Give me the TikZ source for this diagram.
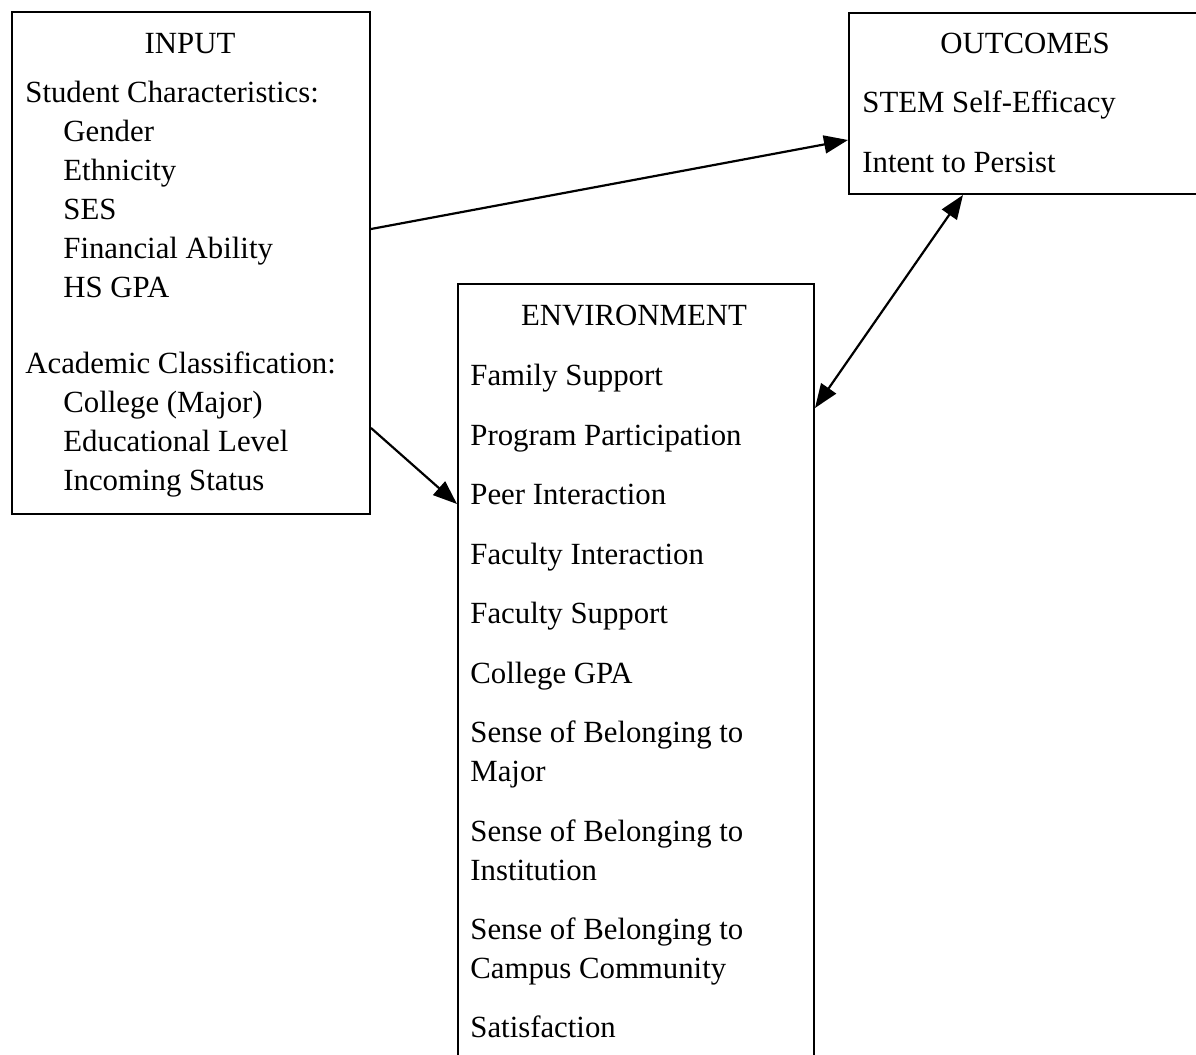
\documentclass[tikz,border=0pt]{standalone}
\usepackage{fontspec}
\setmainfont{Liberation Serif}
\usetikzlibrary{arrows.meta}

\begin{document}
\begin{tikzpicture}[x=0.5pt,y=-0.5pt,
    box/.style={draw,line width=1pt,anchor=north west,inner sep=0pt},
    txt/.style={anchor=base west,inner sep=0pt,font=\fontsize{15.4}{19.5}\selectfont},
    ttl/.style={anchor=base,inner sep=0pt,font=\fontsize{15.4}{19.5}\selectfont},
    tip/.tip={Triangle[length=12pt,width=9pt]},
    link/.style={line width=1.1pt,-tip}]
\useasboundingbox (0,0) rectangle (1196,1055);
\clip (0,0) rectangle (1196,1055);
% the three boxes
\node[box,minimum width=179pt,minimum height=251pt] (input) at (11,11) {};
\node[box,minimum width=178.5pt,minimum height=90.5pt] (outcomes) at (848,12) {};
\node[box,minimum width=178pt,minimum height=400pt] (environment) at (457,283) {};
% input
\node[ttl] (in-title) at (190,53) {INPUT};
\foreach \y/\t [count=\i] in {102/{Student Characteristics:}, 373/{Academic Classification:}}
    \node[txt] (in-head-\i) at (25,\y) {\t};
\foreach \y/\t [count=\i] in {141/Gender, 180/Ethnicity, 219/SES, 258/{Financial Ability}, 297/{HS GPA},
    412/{College (Major)}, 451/{Educational Level}, 490/{Incoming Status}}
    \node[txt] (in-item-\i) at (63,\y) {\t};
% outcomes
\node[ttl] (out-title) at (1025,53) {OUTCOMES};
\foreach \y/\t [count=\i] in {112/{STEM Self-Efficacy}, 172/{Intent to Persist}}
    \node[txt] (out-item-\i) at (862,\y) {\t};
% environment
\node[ttl] (env-title) at (634,325) {ENVIRONMENT};
\foreach \y/\t [count=\i] in {385/{Family Support}, 445/{Program Participation}, 504/{Peer Interaction},
    564/{Faculty Interaction}, 623/{Faculty Support}, 683/{College GPA},
    742/{Sense of Belonging to}, 781/Major, 841/{Sense of Belonging to}, 880/Institution,
    939/{Sense of Belonging to}, 978/{Campus Community}, 1037/Satisfaction}
    \node[txt] (env-item-\i) at (470,\y) {\t};
% arrows
\draw[link] ([yshift=17pt]input.east) -- ([yshift=-18.25pt]outcomes.west);
\draw[link] ([yshift=-82.5pt]input.east) -- ([yshift=-110.5pt]environment.north west);
\draw[link,tip-tip] ([xshift=-32.25pt]outcomes.south) -- ([yshift=-62.5pt]environment.north east);
\end{tikzpicture}
\end{document}
